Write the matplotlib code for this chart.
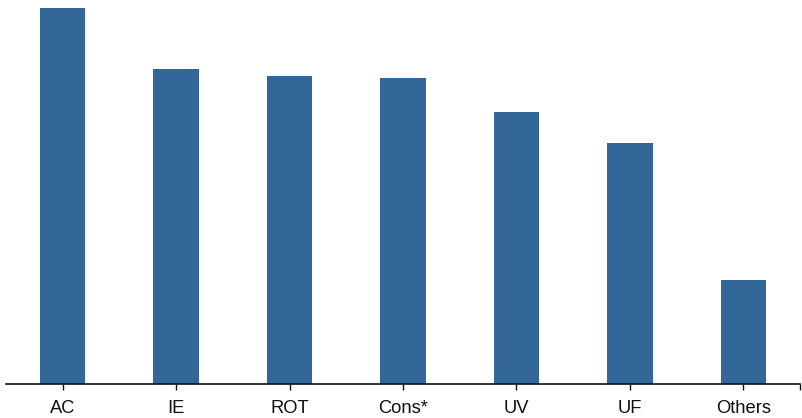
import matplotlib
matplotlib.use("Agg")
import matplotlib.pyplot as plt

categories = ["AC", "IE", "ROT", "Cons*", "UV", "UF", "Others"]
values = [100.0, 83.9, 81.8, 81.3, 72.3, 64.0, 27.7]

plt.rcParams["font.family"] = ["Liberation Sans", "DejaVu Sans"]

W, H = 803, 418
fig = plt.figure(figsize=(W / 100, H / 100), dpi=100)
left, right, bottom, top = 6, 800, 384, 8
ax = fig.add_axes([left / W, (H - bottom) / H, (right - left) / W, (bottom - top) / H])

x = list(range(len(categories)))
ax.bar(x, values, width=0.4, color="#33679a", edgecolor="none")

ax.set_xlim(-0.5, len(categories) - 0.5)
ax.set_ylim(0, max(values))
ax.set_xticks(x)
ax.set_xticklabels(categories, fontsize=13.2, color="#111111")
ax.tick_params(axis="x", length=4, width=1, pad=7.5, color="#111111")
ax.set_yticks([])
for side in ("left", "right", "top"):
    ax.spines[side].set_visible(False)
ax.spines["bottom"].set_linewidth(1.2)
ax.spines["bottom"].set_color("#111111")
# outer end tick of the category axis
ax.set_xticks([len(categories) - 0.5], minor=True)
ax.tick_params(axis="x", which="minor", length=4, width=1, color="#111111")

fig.savefig("out.png", dpi=100)
